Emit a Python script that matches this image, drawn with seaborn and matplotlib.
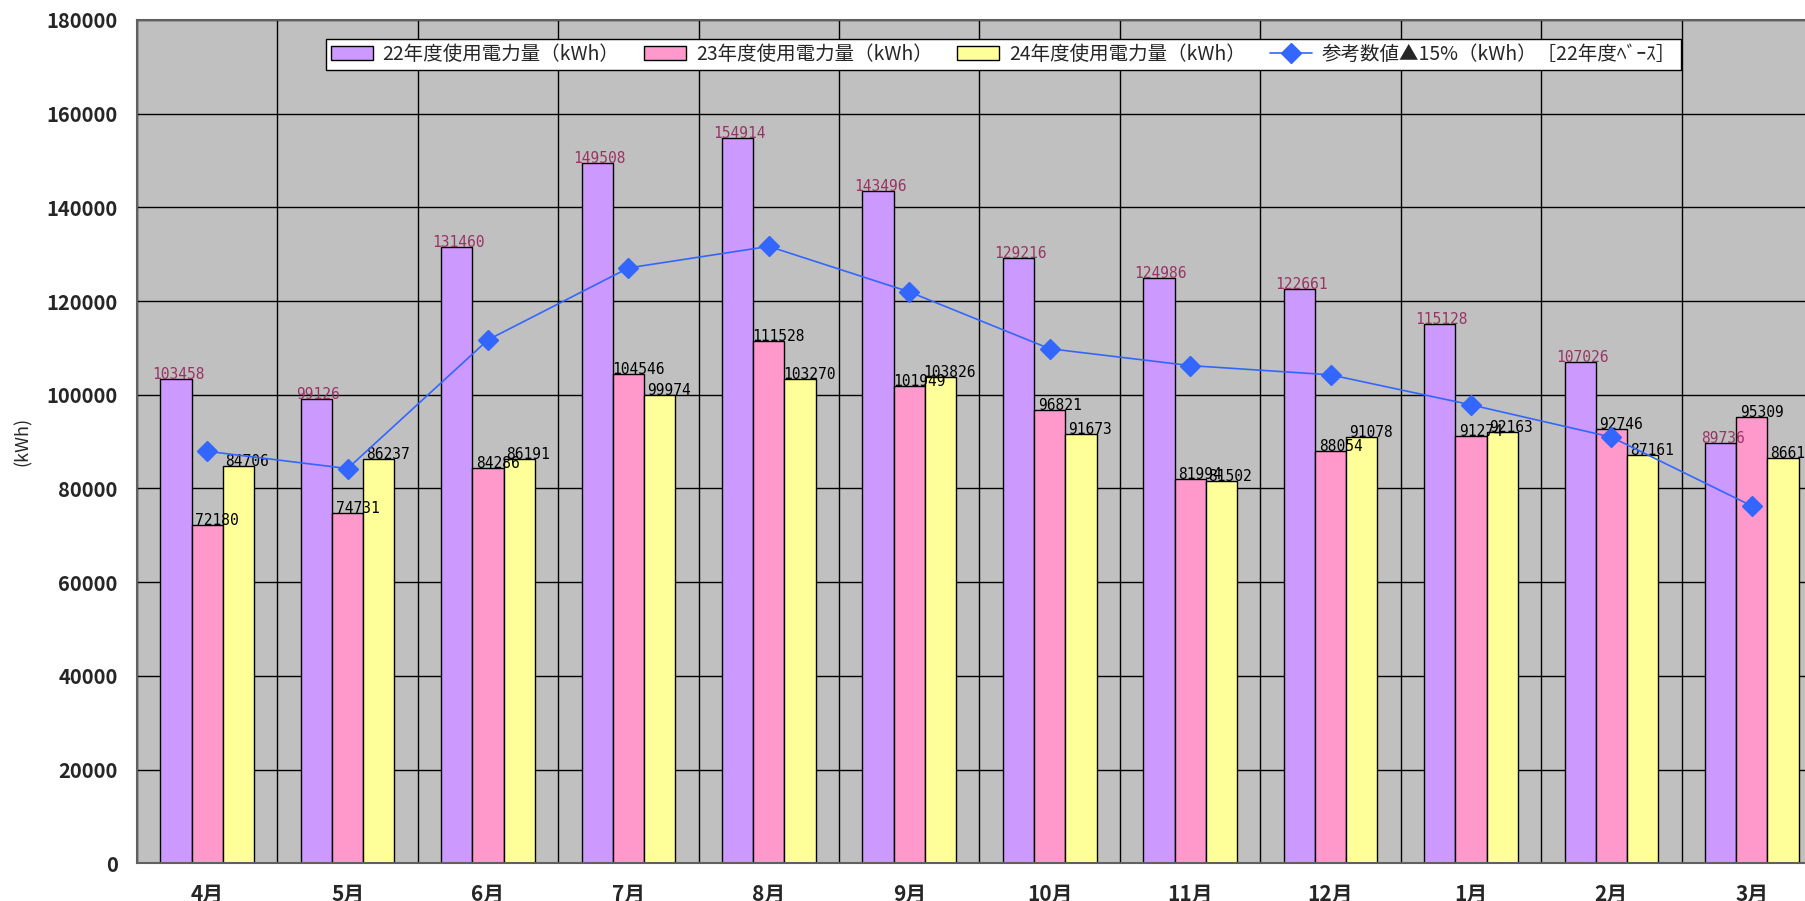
import numpy as np
import pandas as pd
import matplotlib
matplotlib.use("Agg")
import matplotlib.pyplot as plt
from matplotlib.patches import Patch
from matplotlib.lines import Line2D
import seaborn as sns

# ---- data -------------------------------------------------------------
months = ["4月", "5月", "6月", "7月", "8月", "9月",
          "10月", "11月", "12月", "1月", "2月", "3月"]

series_names = ["22年度使用電力量（kWh）",
                "23年度使用電力量（kWh）",
                "24年度使用電力量（kWh）"]

usage_fy22 = [103458, 99126, 131460, 149508, 154914, 143496,
              129216, 124986, 122661, 115128, 107026, 89736]
usage_fy23 = [72180, 74731, 84286, 104546, 111528, 101949,
              96821, 81994, 88054, 91274, 92746, 95309]
usage_fy24 = [84706, 86237, 86191, 99974, 103270, 103826,
              91673, 81502, 91078, 92163, 87161, 86612]

reference_name = "参考数値▲15%（kWh）［22年度ﾍﾞｰｽ］"
reference_values = [87939, 84257, 111741, 127082, 131677, 121972,
                    109834, 106238, 104262, 97859, 90972, 76276]

y_ticks = [0, 20000, 40000, 60000, 80000, 100000,
           120000, 140000, 160000, 180000]

# ---- style ------------------------------------------------------------
bar_colors = ["#CC99FF", "#FF99CC", "#FFFF99"]
label_colors = ["#993366", "black", "black"]
label_dx = [2, 10, 9]          # horizontal nudge of value labels, pixels
line_color = "#3366FF"

sns.set_style("white")
plt.rcParams["font.family"] = ["Noto Sans CJK JP", "DejaVu Sans"]

W, H = 1805, 901
fig = plt.figure(figsize=(W / 100, H / 100), dpi=100)
ax_left, ax_bottom, ax_w, ax_h = 137, 901 - 863.3, 1685, 843.3
ax = fig.add_axes([ax_left / W, ax_bottom / H, ax_w / W, ax_h / H])
ax.set_facecolor("#C0C0C0")

series_values = [usage_fy22, usage_fy23, usage_fy24]
df = pd.DataFrame({
    "月": months * 3,
    "系列": np.repeat(series_names, len(months)),
    "kWh": usage_fy22 + usage_fy23 + usage_fy24,
})

sns.barplot(data=df, x="月", y="kWh", hue="系列",
            order=months, hue_order=series_names, palette=bar_colors,
            saturation=1, width=2 / 3, gap=0, errorbar=None,
            edgecolor="black", linewidth=1, legend=False, ax=ax, zorder=2)

# reference line (22年度 base, -15%)
ax.plot(np.arange(len(months)), reference_values, color=line_color,
        linewidth=1.2, marker="D", markersize=10.5,
        markerfacecolor=line_color, markeredgecolor=line_color, zorder=6)

# value labels above every bar
for k, (vals, cont) in enumerate(zip(series_values, ax.containers)):
    for rect, v in zip(cont, vals):
        ax.annotate(f"{v}", (rect.get_x() + rect.get_width() / 2, v),
                    xytext=(label_dx[k], 0), textcoords="offset pixels",
                    ha="center", va="baseline", fontsize=10.5,
                    family="DejaVu Sans Mono", color=label_colors[k],
                    zorder=5)

# ---- axes -------------------------------------------------------------
ax.set_xlim(-0.5, len(months) - 0.5)
ax.set_ylim(0, 180000)
ax.set_yticks(y_ticks)
ax.set_yticklabels([str(v) for v in y_ticks])
ax.set_xticks(np.arange(len(months)) - 0.5, minor=True)

ax.set_axisbelow(True)
ax.yaxis.grid(True, color="black", linewidth=1)
ax.xaxis.grid(True, which="minor", color="black", linewidth=1)
ax.xaxis.grid(False, which="major")

ax.tick_params(axis="x", which="both", length=0, pad=15, labelsize=15)
for t in ax.get_xticklabels():
    t.set_fontweight("bold")
ax.tick_params(axis="y", direction="in", length=4, pad=14,
               labelsize=14.5, color="#606060")
for t in ax.get_yticklabels():
    t.set_fontweight("bold")

ax.set_xlabel("")
ax.set_ylabel("(kWh)", fontsize=13, va="center")
ax.yaxis.set_label_coords((23 - ax_left) / ax_w, 0.5)

for side in ["left", "top", "right", "bottom"]:
    ax.spines[side].set_color("#606060")
    ax.spines[side].set_linewidth(1.5)

# ---- legend -----------------------------------------------------------
handles = [Patch(facecolor=c, edgecolor="black", linewidth=1, label=n)
           for c, n in zip(bar_colors, series_names)]
handles.append(Line2D([], [], color=line_color, linewidth=1.2, marker="D",
                      markersize=10, label=reference_name))

leg_fs = 14
leg_px = leg_fs * 100 / 72
leg_target_w = 1681 - 326


def make_legend(colspace):
    lg = ax.legend(handles=handles, ncol=4, loc="upper left",
                   bbox_to_anchor=((326 - ax_left) / ax_w,
                                   (863.3 - 39) / ax_h),
                   borderaxespad=0, fontsize=leg_fs, frameon=True,
                   fancybox=False, framealpha=1, facecolor="white",
                   edgecolor="black", borderpad=0.25,
                   handlelength=42 / leg_px, handleheight=13 / leg_px,
                   handletextpad=0.5, columnspacing=colspace)
    lg.get_frame().set_linewidth(1)
    lg.set_zorder(10)
    return lg


cs = 0.45
leg = make_legend(cs)
fig.canvas.draw()
w_now = leg.get_window_extent().width
cs = max(0.2, cs + (leg_target_w - w_now) / 3 / leg_px)
leg.remove()
leg = make_legend(cs)

fig.savefig("out.png", dpi=100)
